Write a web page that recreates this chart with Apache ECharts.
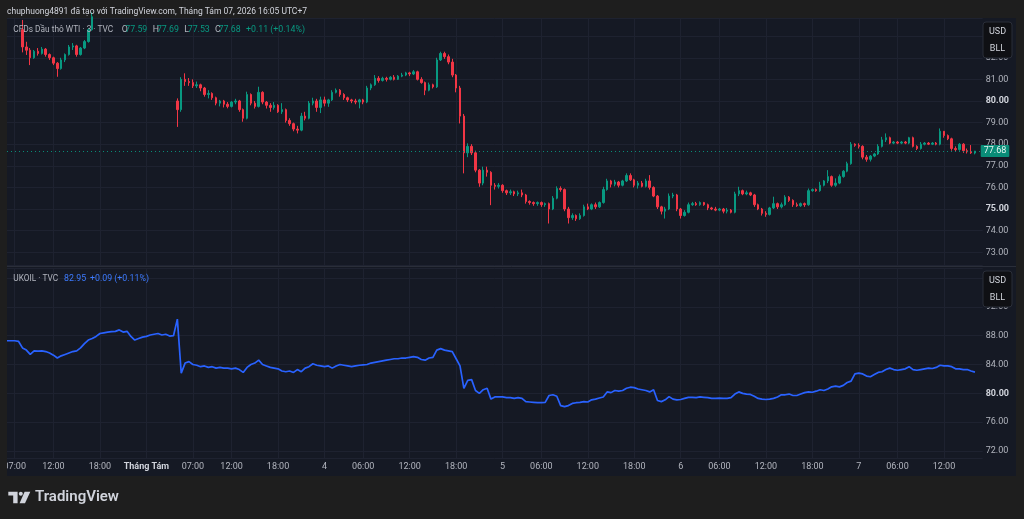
<!DOCTYPE html>
<html><head><meta charset="utf-8">
<script src="https://cdn.jsdelivr.net/npm/echarts@6/dist/echarts.min.js"></script>
<style>html,body{margin:0;padding:0;background:#1e1e1e;}#c{width:1024px;height:519px;}</style>
</head><body><div id="c"></div>
<script>
const FONT = 'Roboto, "Noto Sans", sans-serif';
const slotCount = 253;               // 30-minute trading slots across the visible range
const tickIdx  = [2,12,24,36,48,58,70,82,92,104,116,128,138,150,162,174,184,196,208,220,230,242];
const tickText = ['07:00','12:00','18:00','Tháng Tám','07:00','12:00','18:00','4','06:00','12:00','18:00','5','06:00','12:00','18:00','6','06:00','12:00','18:00','7','06:00','12:00'];

const lastWTI = 77.68;
const lastUK = 82.95;

// WTI candles [open, close, low, high]
const wtiPreStart = 4;
const wtiPre = [
[83.3,82.5,82.25,83.75],[82.5,82.35,82.13,82.74],[82.35,82.0,81.66,82.45],[82.0,82.3,81.95,82.36],[82.3,82.2,82.1,82.45],
[82.2,82.4,82.15,82.5],[82.4,82.15,82.05,82.45],[82.15,82.0,81.9,82.2],[82.0,81.75,81.66,82.05],[81.75,81.5,81.12,81.8],
[81.5,81.9,81.45,82.0],[81.9,82.15,81.8,82.2],[82.15,82.5,82.1,82.59],[82.5,82.55,82.36,82.68],[82.55,82.15,82.05,82.6],
[82.15,82.45,82.1,82.5],[82.45,82.75,82.4,82.82],[82.75,83.3,82.7,83.37],[83.3,83.9,83.25,84.1]
];
const wtiMainStart = 44;
const wtiMain = [
[80.0,79.6,78.8,80.12],[79.6,81.0,79.5,81.1],[81.0,80.9,80.7,81.28],[80.9,80.85,80.7,81.06],[80.85,80.7,80.6,81.0],
[80.7,80.75,80.6,80.9],[80.75,80.6,80.45,80.8],[80.6,80.3,80.2,80.65],[80.3,80.35,80.12,80.5],[80.35,80.15,80.05,80.4],
[80.15,79.9,79.8,80.2],[79.9,80.0,79.75,80.05],[80.0,79.85,79.7,80.05],[79.85,79.75,79.66,79.95],[79.75,79.95,79.7,80.0],
[79.95,80.0,79.85,80.1],[80.0,79.6,79.5,80.05],[79.6,79.2,79.04,79.65],[79.2,80.3,79.15,80.43],[80.3,79.9,79.8,80.35],
[79.9,79.75,79.65,80.0],[79.75,80.4,79.7,80.66],[80.4,79.95,79.85,80.45],[79.95,79.8,79.65,80.0],[79.8,79.7,79.5,79.9],
[79.7,79.8,79.6,79.95],[79.8,79.5,79.45,79.85],[79.5,79.6,79.4,79.9],[79.6,79.1,79.0,79.65],[79.1,78.95,78.85,79.2],
[78.95,78.7,78.6,79.0],[78.7,78.65,78.5,78.85],[78.65,79.3,78.6,79.45],[79.3,79.2,79.1,79.5],[79.2,79.9,79.15,80.0],
[79.9,80.0,79.8,80.15],[80.0,79.7,79.5,80.1],[79.7,80.05,79.44,80.2],[80.05,79.9,79.75,80.2],[79.9,80.05,79.73,80.1],
[80.05,80.4,80.0,80.5],[80.4,80.5,80.35,80.58],[80.5,80.3,80.2,80.55],[80.3,80.15,80.05,80.36],[80.15,80.05,79.95,80.2],
[80.05,80.0,79.9,80.1],[80.0,79.95,79.85,80.1],[79.95,80.05,79.66,80.1],[80.05,79.95,79.85,80.1],[79.95,80.6,79.9,80.7],
[80.6,80.75,80.5,80.81],[80.75,81.05,80.7,81.2],[81.05,80.95,80.85,81.15],[80.95,81.05,80.9,81.12],[81.05,81.0,80.9,81.12],
[81.0,81.1,80.95,81.15],[81.1,81.0,80.95,81.2],[81.0,81.15,80.97,81.2],[81.15,81.2,81.1,81.3],[81.2,81.3,81.15,81.35],
[81.3,81.25,81.15,81.35],[81.25,81.35,81.2,81.43],[81.35,81.0,80.95,81.4],[81.0,80.85,80.8,81.1],[80.85,80.5,80.27,80.9],
[80.5,80.75,80.45,80.85],[80.75,80.65,80.58,80.8],[80.65,81.9,80.6,82.0],[81.9,82.2,81.85,82.28],[82.2,82.05,81.95,82.28],
[82.05,81.8,81.7,82.15],[81.8,81.2,81.1,81.95],[81.2,80.6,80.4,81.25],[80.6,79.3,78.96,80.7],[79.3,77.6,76.65,79.4],
[77.6,77.9,77.4,78.04],[77.9,77.6,77.5,78.0],[77.6,76.8,76.7,77.7],[76.8,76.2,76.03,76.85],[76.2,76.8,76.1,76.96],
[76.8,76.7,76.5,76.96],[76.7,76.1,75.18,76.75],[76.1,76.05,75.9,76.2],[76.05,76.1,75.95,76.2],[76.1,75.85,75.75,76.15],
[75.85,75.75,75.65,75.9],[75.75,75.8,75.65,75.9],[75.8,75.7,75.6,75.85],[75.7,75.75,75.6,75.85],[75.75,75.65,75.55,75.9],
[75.65,75.35,75.25,75.7],[75.35,75.3,75.2,75.4],[75.3,75.25,75.15,75.35],[75.25,75.3,75.15,75.35],[75.3,75.2,75.1,75.35],
[75.2,75.25,75.1,75.3],[75.25,75.0,74.33,75.3],[75.0,75.5,74.95,75.6],[75.5,75.95,75.45,76.05],[75.95,75.9,75.8,76.05],
[75.9,75.0,74.9,75.95],[75.0,74.6,74.33,75.1],[74.6,74.7,74.5,74.8],[74.7,74.55,74.45,74.75],[74.55,74.7,74.5,74.8],
[74.7,75.1,74.65,75.2],[75.1,75.0,74.95,75.25],[75.0,75.2,74.95,75.26],[75.2,75.1,75.0,75.3],[75.1,75.3,75.05,75.35],
[75.3,75.9,75.25,76.03],[75.9,76.3,75.85,76.4],[76.3,76.15,76.0,76.35],[76.15,76.25,76.05,76.35],[76.25,76.1,76.0,76.3],
[76.1,76.3,76.05,76.35],[76.3,76.55,76.25,76.65],[76.55,76.35,76.3,76.65],[76.35,76.1,76.0,76.4],[76.1,76.2,75.95,76.3],
[76.2,76.05,76.0,76.3],[76.05,76.3,76.0,76.4],[76.3,76.0,75.9,76.57],[76.0,75.6,75.55,76.05],[75.6,75.1,75.0,75.65],
[75.1,74.9,74.75,75.15],[74.9,75.0,74.56,75.1],[75.0,75.6,74.95,75.72],[75.6,75.65,75.5,75.75],[75.65,75.0,74.9,75.7],
[75.0,74.7,74.56,75.05],[74.7,74.85,74.65,74.95],[74.85,75.2,74.8,75.3],[75.2,75.25,75.15,75.33],[75.25,75.2,75.15,75.33],
[75.2,75.3,75.15,75.35],[75.3,75.2,75.15,75.33],[75.2,75.05,74.95,75.25],[75.05,75.0,74.95,75.1],[75.0,74.95,74.9,75.1],
[74.95,75.0,74.9,75.05],[75.0,74.9,74.8,75.05],[74.9,74.95,74.8,75.05],[74.95,74.85,74.8,75.0],[74.85,75.7,74.8,75.8],
[75.7,75.85,75.6,76.03],[75.85,75.7,75.64,75.9],[75.7,75.75,75.64,75.85],[75.75,75.65,75.6,75.8],[75.65,75.2,75.1,75.7],
[75.2,75.0,74.95,75.25],[75.0,74.8,74.7,75.05],[74.8,74.75,74.64,74.9],[74.75,75.05,74.7,75.1],[75.05,75.25,75.0,75.57],
[75.25,75.1,75.0,75.3],[75.1,75.2,75.03,75.3],[75.2,75.55,75.15,75.64],[75.55,75.4,75.33,75.6],[75.4,75.2,75.1,75.45],
[75.2,75.15,75.1,75.3],[75.15,75.25,75.1,75.3],[75.25,75.2,75.1,75.3],[75.2,75.85,75.15,75.95],[75.85,75.9,75.8,75.95],
[75.9,75.85,75.8,75.95],[75.85,76.1,75.8,76.26],[76.1,76.3,76.05,76.34],[76.3,76.5,76.2,76.8],[76.5,76.1,76.03,76.55],
[76.1,76.2,76.03,76.42],[76.2,76.5,76.15,76.6],[76.5,76.75,76.45,76.8],[76.75,77.1,76.7,77.19],[77.1,78.0,77.05,78.1],
[78.0,77.95,77.88,78.04],[77.95,77.9,77.8,78.04],[77.9,77.4,77.3,77.95],[77.4,77.3,77.19,77.5],[77.3,77.45,77.2,77.5],
[77.45,77.55,77.4,77.6],[77.55,77.9,77.5,78.0],[77.9,78.2,77.85,78.34],[78.2,78.3,78.1,78.5],[78.3,78.05,78.0,78.35],
[78.05,78.1,78.0,78.15],[78.1,78.05,78.0,78.15],[78.05,78.1,78.0,78.15],[78.1,78.05,78.0,78.15],[78.05,78.3,78.0,78.34],
[78.3,77.9,77.85,78.35],[77.9,77.8,77.73,77.95],[77.8,78.0,77.75,78.1],[78.0,78.05,77.95,78.1],[78.05,78.0,77.96,78.1],
[78.0,78.05,77.96,78.1],[78.05,78.0,77.95,78.1],[78.0,78.6,77.95,78.73],[78.6,78.4,78.3,78.6],[78.4,78.25,78.19,78.45],
[78.25,77.8,77.7,78.3],[77.8,77.75,77.65,77.9],[77.75,78.0,77.7,78.05],[78.0,77.7,77.6,78.05],[77.7,77.65,77.57,77.8],
[77.65,77.6,77.55,77.96],[77.59,77.68,77.53,77.69]
];

// UKOIL line values, one per slot from slot 0
const ukoil = [
87.3,87.3,87.3,87.2,86.3,86.0,85.4,85.9,85.85,85.9,
85.8,85.6,85.3,84.9,85.2,85.4,85.6,85.8,85.9,86.3,
86.9,87.4,87.6,87.9,88.3,88.4,88.5,88.55,88.6,88.8,
88.5,88.6,87.9,87.4,87.6,87.8,87.9,88.1,88.2,88.3,
88.1,88.2,87.95,88.0,90.3,82.8,84.2,84.4,84.0,83.9,
83.7,83.8,83.6,83.7,83.5,83.6,83.5,83.5,83.4,83.5,
83.3,82.9,83.6,84.0,84.2,84.6,84.0,83.8,83.6,83.5,
83.4,83.1,83.0,83.1,82.9,83.3,83.0,83.5,83.7,84.1,
83.9,83.8,83.7,83.8,83.5,83.8,84.0,83.9,83.8,83.7,
83.8,83.9,83.95,84.0,84.2,84.3,84.4,84.5,84.6,84.7,
84.8,84.8,84.9,84.9,85.0,85.1,85.0,84.7,84.6,84.9,
85.0,86.0,86.2,86.0,85.9,85.8,84.8,83.8,80.7,81.8,
81.9,80.4,80.0,80.5,80.7,79.2,79.5,79.5,79.5,79.4,
79.4,79.3,79.4,79.3,78.85,78.8,78.75,78.7,78.7,78.75,
79.7,79.8,79.6,78.3,78.15,78.3,78.6,78.7,78.75,78.85,
78.8,79.1,79.2,79.35,79.5,80.2,80.1,80.4,80.3,80.4,
80.7,80.85,80.8,80.6,80.5,80.4,80.2,80.5,79.0,78.85,
79.1,79.55,79.2,79.1,79.15,79.3,79.45,79.45,79.4,79.5,
79.45,79.4,79.3,79.3,79.35,79.3,79.3,79.4,79.9,80.2,
80.0,79.9,79.85,79.6,79.3,79.2,79.15,79.2,79.3,79.5,
79.8,79.8,79.9,79.7,79.7,79.9,80.1,80.2,80.15,80.3,
80.5,80.4,80.6,80.9,81.0,80.9,81.1,81.5,81.7,82.7,
82.8,82.7,82.4,82.3,82.6,82.9,83.0,83.3,83.5,83.3,
83.2,83.3,83.4,83.7,83.3,83.2,83.3,83.4,83.5,83.45,
83.6,83.9,83.8,83.8,83.7,83.4,83.4,83.3,83.3,83.1,82.95
];

// legend pieces: [text, kind]
const wtiLegend = [['CFDs Dầu thô WTI · 3 · TVC','n'],['O','t'],['77.59','g'],['H','t'],['77.69','g'],['L','t'],['77.53','g'],['C','t'],['77.68','g'],['+0.11 (+0.14%)','g']];
const wtiLegendX = [13.3,121.7,125.2,152.7,156.9,184.3,187.7,215,218.5,246];
const ukLegend = [['UKOIL · TVC','n'],['82.95','b'],['+0.09 (+0.11%)','b']];
const ukLegendX = [13.3,64,90];

const cats = [];
for (let i = 0; i < slotCount; i++) cats.push(String(i));
const candles = [];
wtiPre.forEach((d, k) => candles.push([String(wtiPreStart + k)].concat(d)));
wtiMain.forEach((d, k) => candles.push([String(wtiMainStart + k)].concat(d)));
const tickMap = {};
tickIdx.forEach((t, k) => { tickMap[String(t)] = tickText[k]; });
const isTick = (idx) => tickMap[String(idx)] !== undefined;

const UP = '#089981', DOWN = '#f23645', BLUE = '#2962ff';
const GRIDC = '#1e2230';
const LBL = '#b2b5be';
const legendColor = { n: '#b2b5be', t: '#b2b5be', g: UP, b: '#3d7bff' };
const legendSize = { n: 8.3, t: 8.8, g: 8.8, b: 8.8 };

function yFmt(boldSet) {
  return function (v) {
    const r = Math.round(v);
    if (Math.abs(v - r) > 1e-6) return '';
    const s = r.toFixed(2);
    return boldSet.indexOf(r) >= 0 ? '{b|' + s + '}' : s;
  };
}

const graphics = [
  { type: 'rect', z: -100, silent: true, shape: { x: 7, y: 18, width: 1009, height: 458 }, style: { fill: '#151924' } },
  { type: 'line', z: 50, silent: true, shape: { x1: 7, y1: 266.5, x2: 1016, y2: 266.5 }, style: { stroke: '#2a2e39', lineWidth: 1 } },
  { type: 'rect', z: 100, silent: true, shape: { x: 0, y: 18, width: 7, height: 470 }, style: { fill: '#1e1e1e' } },
  { type: 'rect', z: 100, silent: true, shape: { x: 983, y: 22, width: 29, height: 36, r: 3 }, style: { fill: '#0f1014', stroke: '#2a2e39', lineWidth: 1 } },
  { type: 'text', z: 101, silent: true, style: { x: 997.5, y: 31.5, text: 'USD', align: 'center', verticalAlign: 'middle', fill: '#d1d4dc', font: '9px ' + FONT } },
  { type: 'text', z: 101, silent: true, style: { x: 997.5, y: 49, text: 'BLL', align: 'center', verticalAlign: 'middle', fill: '#d1d4dc', font: '9px ' + FONT } },
  { type: 'rect', z: 100, silent: true, shape: { x: 983, y: 271, width: 29, height: 36, r: 3 }, style: { fill: '#0f1014', stroke: '#2a2e39', lineWidth: 1 } },
  { type: 'text', z: 101, silent: true, style: { x: 997.5, y: 280.5, text: 'USD', align: 'center', verticalAlign: 'middle', fill: '#d1d4dc', font: '9px ' + FONT } },
  { type: 'text', z: 101, silent: true, style: { x: 997.5, y: 298, text: 'BLL', align: 'center', verticalAlign: 'middle', fill: '#d1d4dc', font: '9px ' + FONT } },
  { type: 'text', z: 101, silent: true, style: { x: 7, y: 11.5, text: 'chuphuong4891 đã tạo với TradingView.com, Tháng Tám 07, 2026 16:05 UTC+7',
    verticalAlign: 'middle', fill: '#d1d4dc', font: '8.5px ' + FONT } },
  { type: 'polygon', z: 101, silent: true, shape: { points: [[8.3,491.7],[17.6,491.7],[17.6,503.3],[13.2,503.3],[13.2,495.6],[8.3,495.6]] }, style: { fill: '#d1d4dc' } },
  { type: 'circle', z: 101, silent: true, shape: { cx: 20.8, cy: 493.7, r: 2 }, style: { fill: '#d1d4dc' } },
  { type: 'polygon', z: 101, silent: true, shape: { points: [[24.6,491.7],[30.3,491.7],[25.0,503.3],[19.6,503.3]] }, style: { fill: '#d1d4dc' } },
  { type: 'text', z: 101, silent: true, style: { x: 35, y: 497.5, text: 'TradingView', verticalAlign: 'middle', fill: '#d1d4dc', font: '600 15px ' + FONT } }
];
wtiLegend.forEach((p, k) => graphics.push({ type: 'text', z: 101, silent: true,
  style: { x: wtiLegendX[k], y: 30, text: p[0], verticalAlign: 'middle', fill: legendColor[p[1]], font: legendSize[p[1]] + 'px ' + FONT } }));
ukLegend.forEach((p, k) => graphics.push({ type: 'text', z: 101, silent: true,
  style: { x: ukLegendX[k], y: 279, text: p[0], verticalAlign: 'middle', fill: legendColor[p[1]], font: legendSize[p[1]] + 'px ' + FONT } }));

const chart = echarts.init(document.getElementById('c'));
const option = {
  animation: false,
  backgroundColor: '#1e1e1e',
  textStyle: { fontFamily: FONT },
  grid: [
    { left: 7, top: 18, width: 975.7, height: 247, containLabel: false },
    { left: 7, top: 268, width: 975.7, height: 190, containLabel: false }
  ],
  xAxis: [
    { type: 'category', gridIndex: 0, data: cats, boundaryGap: false,
      axisLine: { show: false }, axisTick: { show: false }, axisLabel: { show: false },
      splitLine: { show: true, interval: (i) => isTick(i), lineStyle: { color: GRIDC, width: 1 } } },
    { type: 'category', gridIndex: 1, data: cats, boundaryGap: false,
      axisLine: { show: false }, axisTick: { show: false },
      axisLabel: { show: true, interval: (i) => isTick(i), color: LBL, fontSize: 9, fontFamily: FONT, margin: 4,
        formatter: (v) => { const t = tickMap[v]; if (!t) return ''; return t === 'Tháng Tám' ? '{b|' + t + '}' : t; },
        rich: { b: { fontWeight: 'bold', color: '#d1d4dc', fontSize: 9, fontFamily: FONT } } },
      splitLine: { show: true, interval: (i) => isTick(i), lineStyle: { color: GRIDC, width: 1 } } }
  ],
  yAxis: [
    { type: 'value', gridIndex: 0, position: 'right', min: 72.41, max: 83.84, splitNumber: 11, minInterval: 1, maxInterval: 1,
      axisLine: { show: false }, axisTick: { show: false },
      axisLabel: { color: LBL, fontSize: 9, fontFamily: FONT, margin: 3, showMinLabel: false, showMaxLabel: false,
        formatter: yFmt([80, 75]), rich: { b: { color: '#d1d4dc', fontWeight: 'bold', fontSize: 9, fontFamily: FONT } } },
      splitLine: { show: true, lineStyle: { color: GRIDC, width: 1 } } },
    { type: 'value', gridIndex: 1, position: 'right', min: 71.03, max: 97.39, splitNumber: 6, minInterval: 4, maxInterval: 4,
      axisLine: { show: false }, axisTick: { show: false },
      axisLabel: { color: LBL, fontSize: 9, fontFamily: FONT, margin: 3, showMinLabel: false, showMaxLabel: false,
        formatter: yFmt([80]), rich: { b: { color: '#d1d4dc', fontWeight: 'bold', fontSize: 9, fontFamily: FONT } } },
      splitLine: { show: true, lineStyle: { color: GRIDC, width: 1 } } }
  ],
  series: [
    { type: 'candlestick', xAxisIndex: 0, yAxisIndex: 0, data: candles,
      encode: { x: 0, y: [1, 2, 3, 4] }, barWidth: 2, clip: true,
      itemStyle: { color: UP, color0: DOWN, borderColor: UP, borderColor0: DOWN, borderWidth: 1 },
      markLine: { silent: true, symbol: ['none', 'none'], animation: false,
        data: [{ yAxis: lastWTI }],
        lineStyle: { color: UP, type: [1, 3], width: 1, opacity: 0.9 },
        label: { show: true, position: 'end', distance: -2, formatter: lastWTI.toFixed(2), color: '#ffffff',
          backgroundColor: UP, padding: [2, 3, 1, 3], fontSize: 9, fontFamily: FONT, borderRadius: 1 } } },
    { type: 'line', xAxisIndex: 1, yAxisIndex: 1, data: ukoil, showSymbol: false, symbol: 'none',
      lineStyle: { color: BLUE, width: 1.7 }, itemStyle: { color: BLUE },
      markLine: { silent: true, symbol: ['none', 'none'], animation: false,
        data: [{ yAxis: lastUK }],
        lineStyle: { color: BLUE, opacity: 0, width: 1 },
        label: { show: true, position: 'end', distance: -2, formatter: lastUK.toFixed(2), color: '#ffffff',
          backgroundColor: BLUE, padding: [2, 3, 1, 3], fontSize: 9, fontFamily: FONT, borderRadius: 1 } } }
  ],
  graphic: graphics
};
chart.setOption(option);
</script>
</body></html>
